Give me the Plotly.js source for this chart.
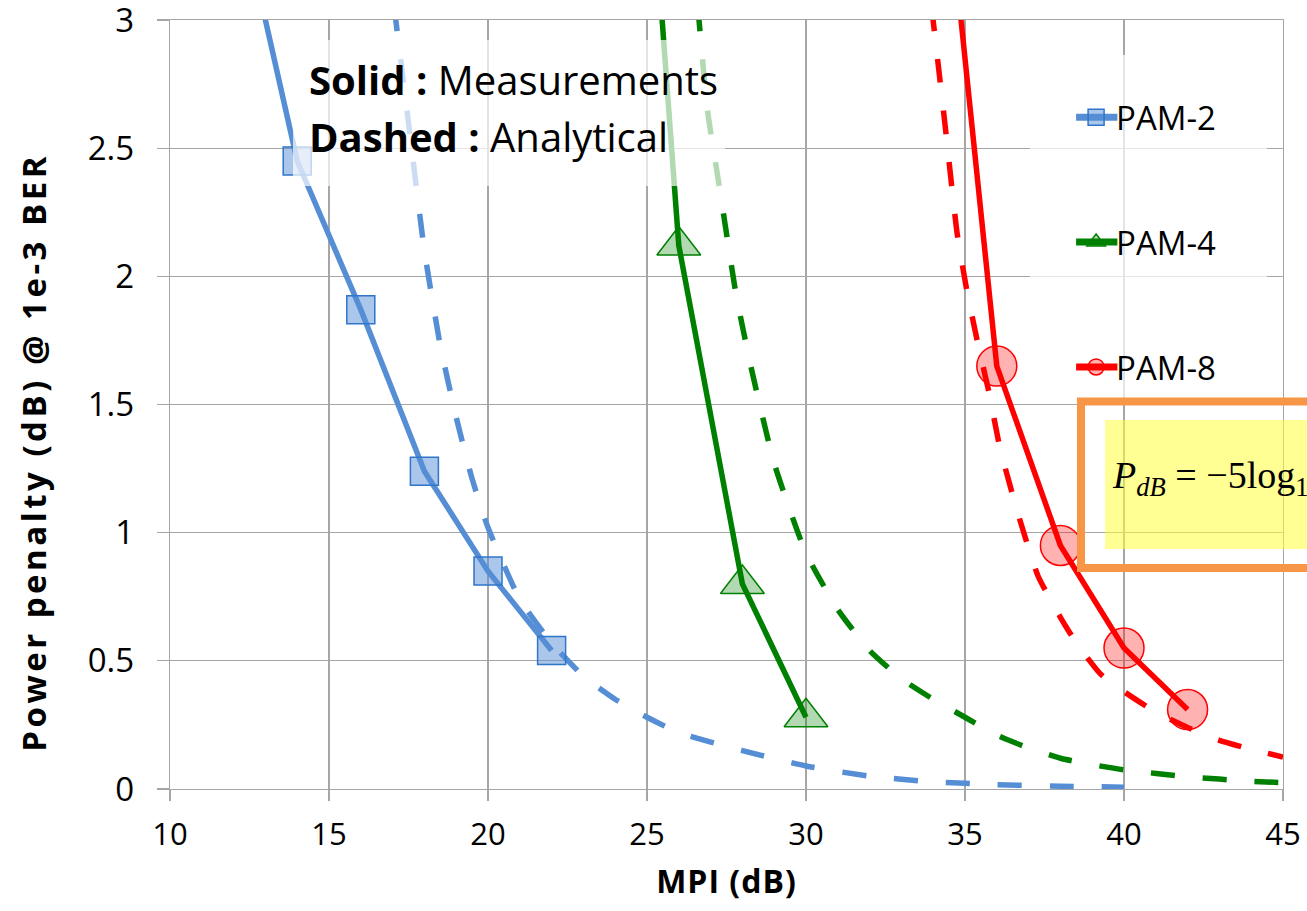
<!DOCTYPE html>
<html>
<head>
<meta charset="utf-8">
<script src="https://cdn.plot.ly/plotly-3.0.1.min.js"></script>
<style>
  html, body { margin: 0; padding: 0; background: #fff; overflow: hidden; }
  #chart { width: 1307px; height: 911px; }
  /* wider tracking for the axis titles */
  #chart g.annotation[data-index="3"] text { letter-spacing: 3.5px; }
  #chart .g-xtitle text { letter-spacing: 1px; }
  /* larger legend swatches */
  #chart .legend .legendpoints .scatterpts path {
    transform-box: fill-box; transform-origin: center; scale: 1.6;
  }
  #chart .legend .legendlines path {
    transform-box: fill-box; transform-origin: center; scale: 1.42 1;
    stroke-width: 7px !important;
  }
</style>
</head>
<body>
<div id="chart"></div>
<script>
// Measured power penalty (solid lines with markers), MPI in dB
const pam2MeasX = [12, 14, 16, 18, 20, 22];
const pam2MeasY = [3.55, 2.45, 1.87, 1.24, 0.85, 0.54];
const pam4MeasX = [25, 26, 28, 30];
const pam4MeasY = [3.8, 2.12, 0.8, 0.28];
const pam8MeasX = [34, 36, 38, 40, 42];
const pam8MeasY = [4.05, 1.65, 0.95, 0.55, 0.31];

// Analytical power penalty (dashed lines)
const pam2AnaX = [17.05, 17.5, 18, 18.5, 19, 19.5, 20, 21, 22, 23, 24, 25, 26, 28, 30, 32, 34, 36, 38, 40];
const pam2AnaY = [3.05, 2.6, 2.1, 1.73, 1.45, 1.21, 1.02, 0.74, 0.57, 0.44, 0.35, 0.28, 0.22, 0.15, 0.09, 0.05, 0.028, 0.017, 0.011, 0.007];
const pam4AnaX = [26.6, 26.9, 27.3, 27.8, 28.3, 29, 30, 31, 32, 33, 34, 35, 36, 37, 38, 39, 40, 42, 44, 45];
const pam4AnaY = [3.05, 2.65, 2.33, 1.93, 1.63, 1.27, 0.92, 0.7, 0.54, 0.43, 0.35, 0.28, 0.21, 0.16, 0.12, 0.095, 0.075, 0.048, 0.03, 0.025];
const pam8AnaX = [33.95, 34.2, 34.4, 34.75, 35.05, 35.4, 35.75, 36.1, 36.7, 37.3, 38, 38.5, 39.25, 40, 41, 42, 43, 44, 45];
const pam8AnaY = [3.05, 2.78, 2.56, 2.17, 1.95, 1.74, 1.55, 1.33, 1.06, 0.83, 0.67, 0.57, 0.45, 0.38, 0.3, 0.24, 0.19, 0.155, 0.125];

const seriesNames = ['PAM-2', 'PAM-4', 'PAM-8'];
const xRange = [10, 45], xStep = 5;
const yRange = [0, 3], yStep = 0.5;

const BLUE = '#558ED5', GREEN = '#008000', RED = '#FF0000';
const LW = 5.5;
const DASH = '24px,28px';
const FONT = 'Open Sans, Noto Sans, sans-serif';

function dashed(x, y, color) {
  return {
    x: x, y: y, type: 'scatter', mode: 'lines', showlegend: false, hoverinfo: 'skip',
    line: { color: color, width: LW, dash: DASH, shape: 'spline', smoothing: 0.5 }
  };
}

const traces = [
  dashed(pam2AnaX, pam2AnaY, BLUE),
  dashed(pam4AnaX, pam4AnaY, GREEN),
  dashed(pam8AnaX, pam8AnaY, RED),
  {
    x: pam2MeasX, y: pam2MeasY, name: seriesNames[0], legendgroup: 'g2',
    type: 'scatter', mode: 'lines+markers',
    line: { color: BLUE, width: LW },
    marker: { symbol: 'square', size: 28, color: 'rgba(85,142,213,0.5)', line: { color: '#2F75C8', width: 1.5 } }
  },
  {
    x: pam4MeasX, y: pam4MeasY, name: seriesNames[1], legendgroup: 'g4',
    type: 'scatter', mode: 'lines+markers',
    line: { color: GREEN, width: LW },
    marker: { symbol: 'triangle-up', size: 38, color: 'rgba(0,128,0,0.3)', line: { color: GREEN, width: 1.5 } }
  },
  {
    x: pam8MeasX, y: pam8MeasY, name: seriesNames[2], legendgroup: 'g8',
    type: 'scatter', mode: 'lines+markers',
    line: { color: RED, width: LW },
    marker: { symbol: 'circle', size: 40, color: 'rgba(255,0,0,0.3)', line: { color: RED, width: 1.5 } }
  }
];

const GRID = '#a6a6a6';

const layout = {
  width: 1307, height: 911,
  margin: { l: 170, r: 24, t: 20, b: 122, pad: 0 },
  paper_bgcolor: '#ffffff', plot_bgcolor: '#ffffff',
  font: { family: FONT, color: '#000' },
  xaxis: {
    range: xRange, tickmode: 'linear', tick0: xRange[0], dtick: xStep,
    showgrid: true, gridcolor: GRID, gridwidth: 1.3,
    showline: true, mirror: true, linecolor: GRID, linewidth: 1.3, zeroline: false,
    ticks: 'outside', ticklen: 11, tickcolor: GRID, tickwidth: 1.3,
    tickfont: { family: FONT, size: 31, color: '#000' },
    ticklabelstandoff: 6, ticklabeloverflow: 'allow',
    title: { text: '<b>MPI (dB)</b>', font: { family: FONT, size: 32, color: '#000' }, standoff: 18 }
  },
  yaxis: {
    range: yRange, tickmode: 'linear', tick0: yRange[0], dtick: yStep,
    showgrid: true, gridcolor: GRID, gridwidth: 1.3,
    showline: true, mirror: true, linecolor: GRID, linewidth: 1.3, zeroline: false,
    ticks: 'outside', ticklen: 12, tickcolor: GRID, tickwidth: 1.3,
    tickfont: { family: FONT, size: 33, color: '#000' },
    ticklabelstandoff: 16, ticklabeloverflow: 'allow'
  },
  showlegend: true,
  legend: {
    x: 0.8141, xanchor: 'left', y: 0.91, yanchor: 'top',
    bgcolor: 'rgba(0,0,0,0)', borderwidth: 0,
    font: { family: FONT, size: 33, color: '#000' },
    traceorder: 'grouped', tracegroupgap: 79
  },
  shapes: [
    // translucent panel behind the "Solid / Dashed" note
    { type: 'rect', xref: 'paper', yref: 'paper', x0: 0.1105, x1: 0.4987, y0: 0.7841, y1: 0.974,
      fillcolor: 'rgba(255,255,255,0.7)', line: { width: 0 }, layer: 'above' },
    // translucent panel behind the legend
    { type: 'rect', xref: 'paper', yref: 'paper', x0: 0.7727, x1: 0.9856, y0: 0.5059, y1: 0.9545,
      fillcolor: 'rgba(255,255,255,0.7)', line: { width: 0 }, layer: 'above' },
    // formula highlight
    { type: 'rect', xref: 'paper', yref: 'paper', x0: 0.8401, x1: 1.2, y0: 0.3121, y1: 0.4798,
      fillcolor: 'rgba(255,255,60,0.55)', line: { width: 0 }, layer: 'above' },
    // formula frame
    { type: 'rect', xref: 'paper', yref: 'paper', x0: 0.8185, x1: 1.25, y0: 0.2874, y1: 0.5039,
      fillcolor: 'rgba(0,0,0,0)', line: { color: '#F79646', width: 8 }, layer: 'above' }
  ],
  annotations: [
    { xref: 'paper', yref: 'paper', x: 0.1231, y: 0.922, xanchor: 'left', yanchor: 'middle', showarrow: false,
      text: '<b>Solid :</b> Measurements', font: { family: FONT, size: 40, color: '#000' } },
    { xref: 'paper', yref: 'paper', x: 0.1231, y: 0.848, xanchor: 'left', yanchor: 'middle', showarrow: false,
      text: '<b>Dashed :</b> Analytical', font: { family: FONT, size: 40, color: '#000' } },
    { xref: 'paper', yref: 'paper', x: 0.8446, y: 0.4044, xanchor: 'left', yanchor: 'middle', showarrow: false,
      text: '<i>P</i><sub><i>dB</i></sub> = \u22125log<sub>10</sub>',
      font: { family: 'Liberation Serif, Times New Roman, serif', size: 38, color: '#000' } },
    // y-axis title
    { xref: 'paper', yref: 'paper', x: -0.1231, y: 0.4382, xanchor: 'center', yanchor: 'middle', showarrow: false,
      textangle: -90, text: '<b>Power penalty (dB) @ 1e-3 BER</b>',
      font: { family: FONT, size: 33, color: '#000' } }
  ]
};

Plotly.newPlot('chart', traces, layout, { staticPlot: true, displayModeBar: false });
</script>
</body>
</html>
